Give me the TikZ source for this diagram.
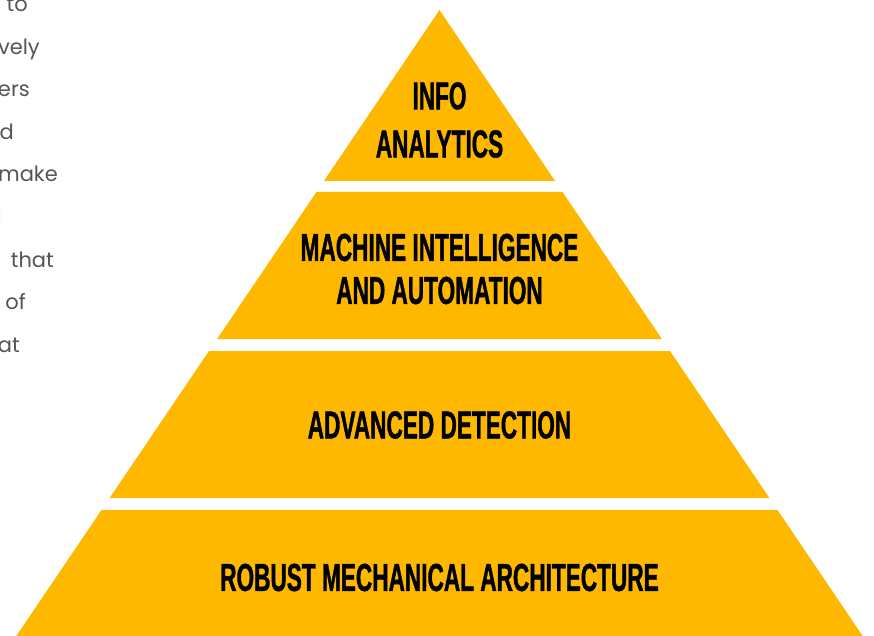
\documentclass[tikz,border=0pt]{standalone}
\usepackage{fontspec}
\usepackage{xcolor}
\newfontfamily\tierfont[FakeStretch=0.58,FakeBold=1]{Liberation Sans}
\newfontfamily\parafont{Poppins}
\definecolor{pyramid}{RGB}{255,184,0}
\definecolor{paragray}{RGB}{85,85,85}

\begin{document}
\begin{tikzpicture}[x=1pt,y=-1pt,
  tier/.style={fill=pyramid},
  tierlabel/.style={font=\tierfont\bfseries\fontsize{39}{43}\selectfont, align=center, text=black},
  frag/.style={font=\parafont\fontsize{21}{26}\selectfont, text=paragray, anchor=base east, inner sep=0pt}]
\useasboundingbox (0,0) rectangle (874,636);
\clip (0,0) rectangle (874,636);

% pyramid, four tiers
\foreach \t/\b in {10/181,192/339,351/498,510/660}
  \fill[tier] ({439.5-0.676*(\t-10)},\t) -- ({439.5+0.676*(\t-10)},\t)
    -- ({439.5+0.676*(\b-10)},\b) -- ({439.5-0.676*(\b-10)},\b) -- cycle;

\node[tierlabel] (info) at (439.5,120) {INFO\\[5pt]ANALYTICS};
\node[tierlabel] (machine) at (439.5,269) {MACHINE INTELLIGENCE\\AND AUTOMATION};
\node[tierlabel] (detect) at (439.5,425) {ADVANCED DETECTION};
\node[tierlabel] (robust) at (439.5,577.5) {ROBUST MECHANICAL ARCHITECTURE};

% cut-off paragraph on the left
\foreach \w/\x/\y [count=\i] in {to/28/12,vely/40/54.6,ers/30/97,d/14/139.5,make/58/182,
    l/2/224.5,that/54/267,of/26/309.5,at/20/352}
  \node[frag] (frag\i) at (\x,\y) {\w};
\end{tikzpicture}
\end{document}
